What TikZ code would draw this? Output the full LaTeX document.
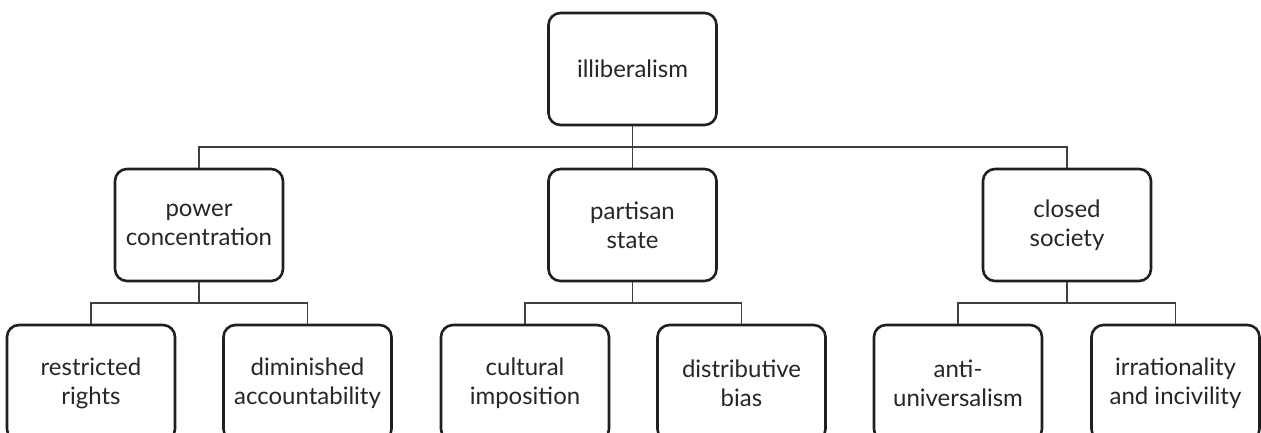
\documentclass[tikz,border=0pt]{standalone}
\usepackage{fontspec}
\setmainfont{Lato}
\begin{document}
\begin{tikzpicture}[x=1pt,y=-1pt,
  box/.style={draw=black!88, line width=2.6pt, rounded corners=12pt,
    minimum width=168pt, minimum height=112pt, align=center,
    font=\fontsize{24}{29}\selectfont, text=black!85, inner sep=0pt},
  leaf/.style={box, minimum height=116pt},
  conn/.style={draw=black!75, line width=1.3pt}]
\useasboundingbox (0,0) rectangle (1261,432);
\begin{scope}
\clip (0,0) rectangle (1261,432);
\node[box] (top) at (632.5,69) {illiberalism};
\node[box] (pc) at (199,225) {power\\concentration};
\node[box] (ps) at (632.5,225) {partisan\\state};
\node[box] (cs) at (1067,225) {closed\\society};
\node[leaf] (rr) at (91,383) {restricted\\rights};
\node[leaf] (da) at (307.5,383) {diminished\\accountability};
\node[leaf] (ci) at (525,383) {cultural\\imposition};
\node[leaf] (db) at (741.5,383) {distributive\\bias};
\node[leaf] (au) at (958,383) {anti-\\universalism};
\node[leaf] (ii) at (1175.5,383) {irrationality\\and incivility};
\end{scope}
\coordinate (j0) at (632.5,147);
\coordinate (j1) at (199,303);
\coordinate (j2) at (632.5,303);
\coordinate (j3) at (1067,303);
\draw[conn] (top.south) -- (j0);
\draw[conn] (pc.north) |- (j0) -| (cs.north);
\draw[conn] (j0) -- (ps.north);
\draw[conn] (pc.south) -- (j1);
\draw[conn] (rr.north) |- (j1) -| (da.north);
\draw[conn] (ps.south) -- (j2);
\draw[conn] (ci.north) |- (j2) -| (db.north);
\draw[conn] (cs.south) -- (j3);
\draw[conn] (au.north) |- (j3) -| (ii.north);
\end{tikzpicture}
\end{document}
